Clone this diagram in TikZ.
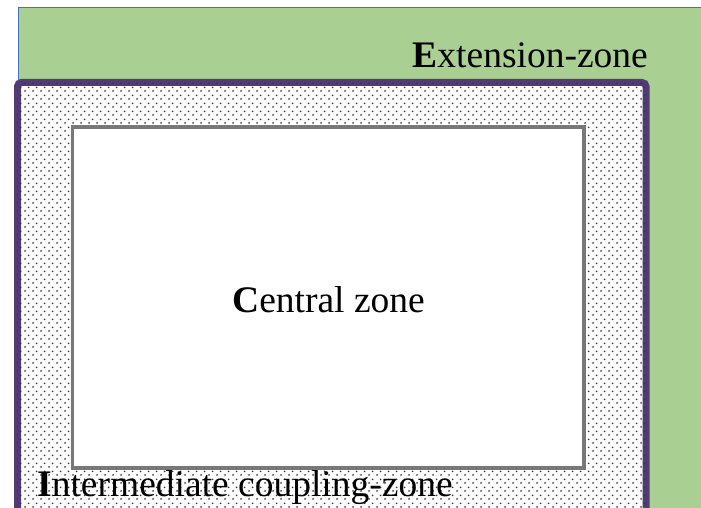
\documentclass[tikz,border=0pt]{standalone}
\usepackage{fontspec}
\setmainfont{Liberation Serif}
\usetikzlibrary{patterns.meta}

\definecolor{extgreen}{RGB}{170,207,146}
\definecolor{extblue}{RGB}{68,114,196}
\definecolor{ringpurple}{RGB}{82,58,114}
\definecolor{coregray}{RGB}{120,120,120}

% staggered dot texture for the coupling ring
\tikzdeclarepattern{
  name=couplingdots,
  type=uncolored,
  bounding box={(0pt,0pt) and (8pt,8pt)},
  tile size={(8pt,8pt)},
  code={
    \fill (1.2pt,1.2pt) circle (1.05pt);
    \fill (5.2pt,5.2pt) circle (1.05pt);
  }
}

\tikzset{
  zonelabel/.style={inner sep=0pt, font=\fontsize{37.5}{40}\selectfont},
  extzone/.style={fill=extgreen, draw=extblue, line width=1pt},
  ringzone/.style={draw=ringpurple, line width=7pt, rounded corners=4pt,
    fill=white, postaction={pattern={couplingdots}, pattern color=black!80}},
  corezone/.style={draw=coregray, line width=3.5pt, fill=white}
}

\begin{document}
\begin{tikzpicture}[x=1pt,y=-1pt]
  \useasboundingbox (0,0) rectangle (701,508);

  % extension zone (outer green field)
  \path[extzone] (18,8) rectangle (720,530);

  % intermediate coupling zone (dotted ring)
  \path[ringzone] (17.5,82.5) rectangle (646,540);

  % central zone
  \path[corezone] (72.5,127) rectangle (584,468);

  \node[zonelabel, anchor=base east] (ext) at (648,68) {\textbf{E}xtension-zone};
  \node[zonelabel, anchor=base west] (cen) at (232,312) {\textbf{C}entral zone};
  \node[zonelabel, anchor=base west] (inter) at (37,496) {\textbf{I}ntermediate coupling-zone};
\end{tikzpicture}
\end{document}
